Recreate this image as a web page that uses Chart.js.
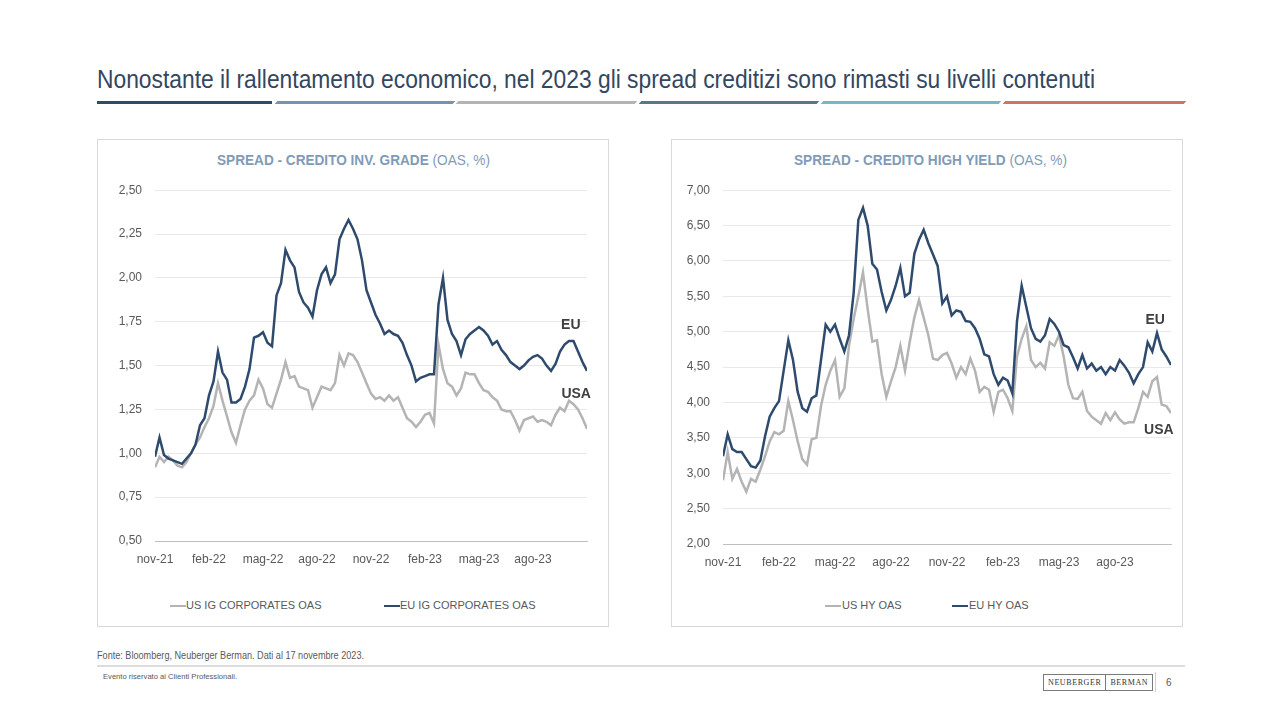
<!DOCTYPE html>
<html lang="it">
<head>
<meta charset="utf-8">
<title>Spread creditizi 2023</title>
<script src="https://cdn.jsdelivr.net/npm/chart.js@4.4.1/dist/chart.umd.min.js"></script>
<style>
    html, body {
        margin: 0;
        padding: 0;
        background: #ffffff;
    }

    body {
        position: relative;
        width: 1280px;
        height: 720px;
        overflow: hidden;
        font-family: "Liberation Sans", Arial, sans-serif;
    }

    .testo {
        position: absolute;
        white-space: nowrap;
        transform-origin: left top;
    }

    #titolo {
        left: 97px;
        top: 64px;
        font-size: 26px;
        color: #33475f;
        font-family: "Liberation Sans Narrow", "Arial Narrow", "Liberation Sans", Arial, sans-serif;
    }

    .barra {
        position: absolute;
        top: 101px;
        height: 3px;
    }

    .pannello {
        position: absolute;
        top: 139px;
        width: 512px;
        height: 488px;
        border: 1px solid #d9d9d9;
        box-sizing: border-box;
    }

    .titolo-grafico {
        top: 152px;
        font-size: 14px;
        color: #7f9bb8;
    }

    .titolo-grafico b {
        font-weight: bold;
    }

    .contenitore {
        position: absolute;
        top: 170px;
        width: 512px;
        height: 400px;
    }

    .legenda-linea {
        position: absolute;
        top: 605px;
        width: 16px;
        height: 2px;
    }

    .legenda-testo {
        top: 599px;
        font-size: 11px;
        color: #595959;
    }

    #fonte {
        left: 97px;
        top: 650px;
        font-size: 10px;
        color: #595959;
    }

    #separatore {
        position: absolute;
        left: 97px;
        top: 665px;
        width: 1088px;
        height: 2px;
        background: #dcdcdc;
    }

    #evento {
        left: 103px;
        top: 672px;
        font-size: 8px;
        color: #595959;
    }

    #logo {
        position: absolute;
        left: 1043px;
        top: 674px;
        height: 15px;
        display: flex;
        border: 1px solid #7a7a7a;
        font-family: "Liberation Serif", serif;
        font-size: 8px;
        letter-spacing: 0.6px;
        color: #333333;
    }

    #logo span {
        padding: 0 4px;
        line-height: 15px;
    }

    #logo span + span {
        border-left: 1px solid #7a7a7a;
    }

    #linea-pagina {
        position: absolute;
        left: 1155px;
        top: 672px;
        width: 1px;
        height: 20px;
        background: #d0d0d0;
    }

    #pagina {
        left: 1166px;
        top: 677px;
        font-size: 10px;
        color: #595959;
    }
</style>
</head>
<body>

<div id="titolo" class="testo">Nonostante il rallentamento economico, nel 2023 gli spread creditizi sono rimasti su livelli contenuti</div>

<div class="barra" style="left:97px;width:175px;background:#2f4a6b"></div>
<div class="barra" style="left:276px;width:178px;background:#7591b3;transform:skewX(-40deg)"></div>
<div class="barra" style="left:457px;width:179px;background:#b4b4b4;transform:skewX(-40deg)"></div>
<div class="barra" style="left:640px;width:178px;background:#5b7882;transform:skewX(-40deg)"></div>
<div class="barra" style="left:822px;width:178px;background:#79b6c4;transform:skewX(-40deg)"></div>
<div class="barra" style="left:1004px;width:181px;background:#cd7560;transform:skewX(-40deg)"></div>

<div class="pannello" style="left:97px"></div>
<div class="pannello" style="left:671px"></div>

<div id="titoloIG" class="testo titolo-grafico" style="left:217px"><b>SPREAD - CREDITO INV. GRADE</b> (OAS, %)</div>
<div id="titoloHY" class="testo titolo-grafico" style="left:794px"><b>SPREAD - CREDITO HIGH YIELD</b> (OAS, %)</div>

<div class="contenitore" style="left:97px"><canvas id="graficoIG" width="512" height="400"></canvas></div>
<div class="contenitore" style="left:671px"><canvas id="graficoHY" width="512" height="400"></canvas></div>

<div class="legenda-linea" style="left:170px;background:#b4b4b4"></div>
<div class="testo legenda-testo" style="left:186px">US IG CORPORATES OAS</div>
<div class="legenda-linea" style="left:384px;background:#2e4a6d"></div>
<div class="testo legenda-testo" style="left:400px">EU IG CORPORATES OAS</div>

<div class="legenda-linea" style="left:825px;background:#b4b4b4"></div>
<div class="testo legenda-testo" style="left:842px">US HY OAS</div>
<div class="legenda-linea" style="left:952px;background:#2e4a6d"></div>
<div class="testo legenda-testo" style="left:969px">EU HY OAS</div>

<div id="fonte" class="testo">Fonte: Bloomberg, Neuberger Berman. Dati al 17 novembre 2023.</div>
<div id="separatore"></div>
<div id="evento" class="testo">Evento riservato ai Clienti Professionali.</div>
<div id="logo"><span>NEUBERGER</span><span>BERMAN</span></div>
<div id="linea-pagina"></div>
<div id="pagina" class="testo">6</div>

<script>
// asse x: una osservazione a settimana da nov-21 (indice 0) a metà nov-23 (indice 96)
const ETICHETTE_X = ["nov-21", "feb-22", "mag-22", "ago-22", "nov-22", "feb-23", "mag-23", "ago-23"];

const TICK_Y_IG = ["0,50", "0,75", "1,00", "1,25", "1,50", "1,75", "2,00", "2,25", "2,50"];
const TICK_Y_HY = ["2,00", "2,50", "3,00", "3,50", "4,00", "4,50", "5,00", "5,50", "6,00", "6,50", "7,00"];

const US_IG = [
    0.92, 0.98, 0.95, 0.98, 0.96, 0.93, 0.92, 0.95, 1.00, 1.05,
    1.09, 1.15, 1.20, 1.27, 1.40, 1.30, 1.21, 1.12, 1.06, 1.16,
    1.25, 1.30, 1.33, 1.42, 1.37, 1.28, 1.26, 1.34, 1.42, 1.52,
    1.43, 1.44, 1.38, 1.37, 1.36, 1.26, 1.32, 1.38, 1.37, 1.36,
    1.40, 1.56, 1.50, 1.57, 1.56, 1.52, 1.46, 1.40, 1.34, 1.31,
    1.32, 1.30, 1.33, 1.30, 1.32, 1.26, 1.20, 1.18, 1.15, 1.18,
    1.22, 1.23, 1.17, 1.62, 1.48, 1.40, 1.38, 1.33, 1.37, 1.46,
    1.45, 1.45, 1.40, 1.36, 1.35, 1.32, 1.30, 1.25, 1.24, 1.24,
    1.19, 1.13, 1.19, 1.20, 1.21, 1.18, 1.19, 1.18, 1.16, 1.22,
    1.26, 1.24, 1.30, 1.28, 1.25, 1.20, 1.14
];

const EU_IG = [
    0.98, 1.09, 0.99, 0.97, 0.96, 0.95, 0.94, 0.97, 1.00, 1.05,
    1.16, 1.20, 1.33, 1.41, 1.58, 1.46, 1.42, 1.29, 1.29, 1.31,
    1.38, 1.48, 1.66, 1.67, 1.69, 1.63, 1.61, 1.90, 1.97, 2.16,
    2.10, 2.06, 1.92, 1.86, 1.83, 1.78, 1.93, 2.02, 2.06, 1.97,
    2.02, 2.22, 2.28, 2.33, 2.28, 2.22, 2.10, 1.93, 1.86, 1.79,
    1.74, 1.68, 1.70, 1.68, 1.67, 1.63, 1.56, 1.50, 1.41, 1.43,
    1.44, 1.45, 1.45, 1.85, 2.00, 1.76, 1.68, 1.64, 1.56, 1.65,
    1.68, 1.70, 1.72, 1.70, 1.67, 1.62, 1.64, 1.59, 1.56, 1.52,
    1.50, 1.48, 1.50, 1.53, 1.55, 1.56, 1.54, 1.50, 1.47, 1.51,
    1.58, 1.62, 1.64, 1.64, 1.58, 1.52, 1.47
];

const US_HY = [
    2.90, 3.30, 2.92, 3.06, 2.88, 2.74, 2.92, 2.88, 3.05, 3.24,
    3.45, 3.58, 3.55, 3.60, 4.02, 3.75, 3.45, 3.20, 3.12, 3.48,
    3.50, 3.95, 4.25, 4.45, 4.60, 4.08, 4.20, 4.80, 5.18, 5.50,
    5.84, 5.32, 4.86, 4.88, 4.40, 4.08, 4.30, 4.50, 4.80, 4.45,
    4.85, 5.20, 5.45, 5.20, 4.95, 4.62, 4.60, 4.67, 4.70, 4.55,
    4.35, 4.50, 4.40, 4.62, 4.45, 4.15, 4.22, 4.18, 3.87, 4.15,
    4.18, 4.06, 3.88, 4.65, 4.90, 5.08, 4.60, 4.50, 4.56, 4.48,
    4.85, 4.80, 4.95, 4.65, 4.25, 4.06, 4.05, 4.15, 3.88, 3.80,
    3.75, 3.70, 3.85, 3.75, 3.86, 3.76, 3.70, 3.72, 3.72, 3.92,
    4.15, 4.08, 4.30, 4.36, 3.97, 3.95, 3.85
];

const EU_HY = [
    3.24, 3.55, 3.34, 3.30, 3.30, 3.20, 3.10, 3.08, 3.18, 3.52,
    3.80, 3.92, 4.02, 4.45, 4.88, 4.60, 4.15, 3.92, 3.87, 4.06,
    4.10, 4.60, 5.10, 5.00, 5.10, 4.90, 4.72, 4.95, 5.55, 6.58,
    6.75, 6.50, 5.96, 5.88, 5.56, 5.30, 5.45, 5.65, 5.90, 5.50,
    5.55, 6.10, 6.30, 6.44, 6.25, 6.09, 5.93, 5.40, 5.50, 5.23,
    5.30, 5.28, 5.15, 5.14, 5.05, 4.90, 4.68, 4.65, 4.40, 4.25,
    4.35, 4.31, 4.13, 5.15, 5.65, 5.35, 5.05, 4.90, 4.86, 4.95,
    5.18, 5.11, 5.00, 4.81, 4.78, 4.64, 4.48, 4.67, 4.48, 4.55,
    4.45, 4.50, 4.40, 4.50, 4.45, 4.60, 4.52, 4.42, 4.27, 4.40,
    4.50, 4.85, 4.72, 4.98, 4.75, 4.65, 4.53
];

const COLORE_US = "#b4b4b4";
const COLORE_EU = "#2e4a6d";
const FONT_ASSI = { family: "'Liberation Sans', Arial, sans-serif", size: 12 };

// scrive "EU" / "USA" vicino alla fine delle linee, in coordinate dei dati
const pluginEtichette = {
    id: "etichette",
    afterDatasetsDraw(chart, args, opzioni) {
        const ctx = chart.ctx;
        ctx.save();
        ctx.font = "bold 14px 'Liberation Sans', Arial, sans-serif";
        ctx.fillStyle = "#404040";
        ctx.textAlign = "center";
        ctx.textBaseline = "middle";
        opzioni.voci.forEach(voce => {
            ctx.fillText(
                voce.testo,
                chart.scales.x.getPixelForValue(voce.x),
                chart.scales.y.getPixelForValue(voce.y)
            );
        });
        ctx.restore();
    }
};

function comePunti(valori) {
    return valori.map((valore, indice) => ({ x: indice, y: valore }));
}

function creaGrafico(idCanvas, impostazioni) {
    const contesto = document.getElementById(idCanvas);

    new Chart(contesto, {
        type: "line",
        data: {
            datasets: [
                {
                    label: impostazioni.nomeUS,
                    data: comePunti(impostazioni.serieUS),
                    borderColor: COLORE_US,
                    backgroundColor: COLORE_US,
                    borderWidth: 2.5,
                    pointRadius: 0,
                    tension: 0,
                    order: 1
                },
                {
                    label: impostazioni.nomeEU,
                    data: comePunti(impostazioni.serieEU),
                    borderColor: COLORE_EU,
                    backgroundColor: COLORE_EU,
                    borderWidth: 2.5,
                    pointRadius: 0,
                    tension: 0,
                    order: 0
                }
            ]
        },
        options: {
            responsive: false,
            animation: false,
            layout: {
                padding: impostazioni.margini
            },
            plugins: {
                legend: { display: false },
                tooltip: { enabled: false },
                etichette: { voci: impostazioni.etichette }
            },
            scales: {
                x: {
                    type: "linear",
                    min: 0,
                    max: 96,
                    afterFit: scala => { scala.height = impostazioni.altezzaX; },
                    grid: { display: false, drawTicks: false },
                    border: { display: true, color: "#bfbfbf", width: 1 },
                    ticks: {
                        stepSize: 12,
                        autoSkip: false,
                        maxRotation: 0,
                        padding: 11,
                        color: "#595959",
                        font: FONT_ASSI,
                        callback: valore => ETICHETTE_X[valore / 12] ?? ""
                    }
                },
                y: {
                    min: impostazioni.minY,
                    max: impostazioni.maxY,
                    afterFit: scala => { scala.width = impostazioni.larghezzaY; },
                    grid: { color: "#e9e9e9", drawTicks: false },
                    border: { display: false },
                    ticks: {
                        stepSize: impostazioni.passoY,
                        padding: 13,
                        color: "#595959",
                        font: FONT_ASSI,
                        callback: (valore, indice) => impostazioni.tickY[indice]
                    }
                }
            }
        },
        plugins: [pluginEtichette]
    });
}

function adattaLarghezza(id, larghezza) {
    const elemento = document.getElementById(id);
    const attuale = elemento.getBoundingClientRect().width;
    elemento.style.transform = `scaleX(${larghezza / attuale})`;
}

creaGrafico("graficoIG", {
    nomeUS: "US IG CORPORATES OAS",
    nomeEU: "EU IG CORPORATES OAS",
    serieUS: US_IG,
    serieEU: EU_IG,
    minY: 0.5,
    maxY: 2.5,
    passoY: 0.25,
    tickY: TICK_Y_IG,
    larghezzaY: 58,
    altezzaX: 29,
    margini: { left: 0, right: 22, top: 19, bottom: 0 },
    etichette: [
        { testo: "EU", x: 92.4, y: 1.733 },
        { testo: "USA", x: 93.6, y: 1.335 }
    ]
});

creaGrafico("graficoHY", {
    nomeUS: "US HY OAS",
    nomeEU: "EU HY OAS",
    serieUS: US_HY,
    serieEU: EU_HY,
    minY: 2,
    maxY: 7,
    passoY: 0.5,
    tickY: TICK_Y_HY,
    larghezzaY: 52,
    altezzaX: 26,
    margini: { left: 0, right: 12, top: 17, bottom: 0 },
    etichette: [
        { testo: "EU", x: 92.6, y: 5.17 },
        { testo: "USA", x: 93.4, y: 3.61 }
    ]
});

adattaLarghezza("titolo", 998);
adattaLarghezza("titoloIG", 273);
adattaLarghezza("titoloHY", 273);
adattaLarghezza("fonte", 267);
adattaLarghezza("evento", 134);
</script>
</body>
</html>
